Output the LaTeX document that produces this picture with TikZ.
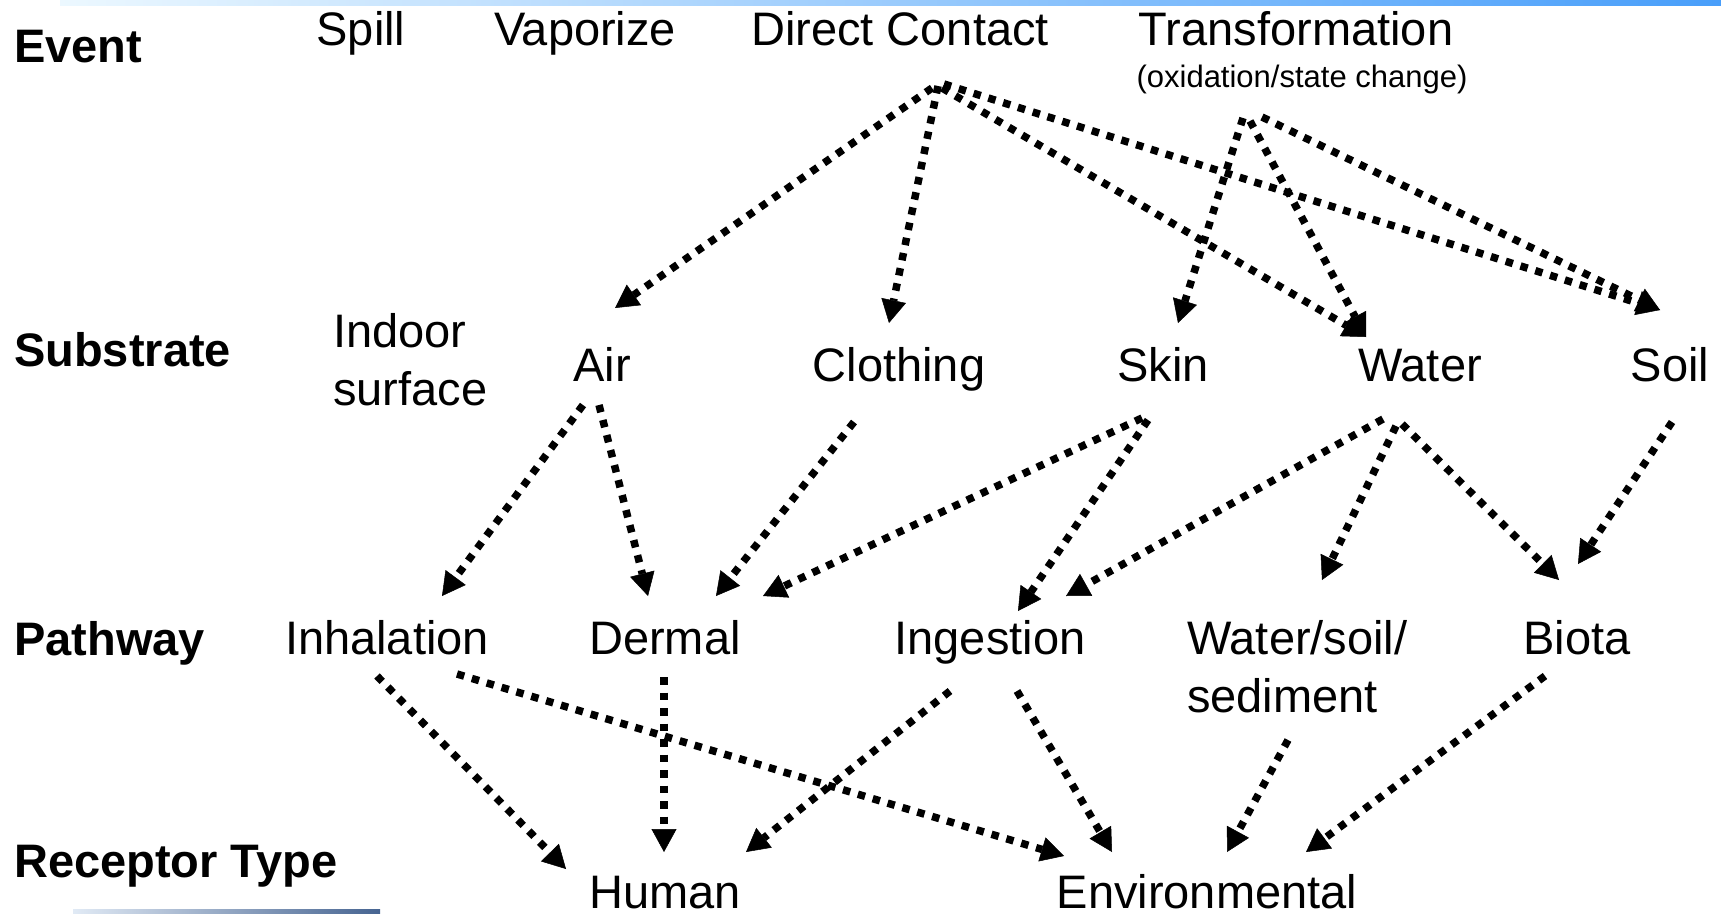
\documentclass[tikz,border=0pt]{standalone}
\usepackage{fontspec}
\setmainfont{Liberation Sans}
\usetikzlibrary{arrows.meta}
\definecolor{barA}{RGB}{236,248,255}
\definecolor{barB}{RGB}{72,158,250}
\definecolor{botA}{RGB}{225,234,245}
\definecolor{botM}{RGB}{150,170,195}
\definecolor{botB}{RGB}{70,100,145}
\begin{document}
\begin{tikzpicture}[x=1pt,y=-1pt,
  txt/.style={inner sep=0pt, anchor=base, font=\fontsize{47}{58}\selectfont},
  lbl/.style={inner sep=0pt, anchor=base west, font=\fontsize{47}{58}\selectfont\bfseries},
  sml/.style={inner sep=0pt, anchor=base, font=\fontsize{31}{37}\selectfont},
  flow/.style={line width=7.5pt, dash pattern=on 7.5pt off 8pt,
    -{Triangle[length=23pt,width=25pt,line width=0.5pt]}},
]
\useasboundingbox (0,0) rectangle (1721,913);
\fill[white] (0,0) rectangle (1721,913);
\shade[left color=barA, right color=barB] (60,0) rectangle (1721,5);
\shade[left color=botA, middle color=botM, right color=botB] (73,909) rectangle (380,913);

% row labels
\node[lbl] (levent) at (14,62) {Event};
\node[lbl] (lsub) at (14,366) {Substrate};
\node[lbl] (lpath) at (14,655) {Pathway};
\node[lbl] (lrec) at (14,877) {Receptor Type};

% events
\node[txt] (spill) at (361,45) {Spill};
\node[txt] (vap) at (585,45) {Vaporize};
\node[txt] (dc) at (900,45) {Direct Contact};
\node[txt] (tr) at (1296,45) {Transformation};
\node[sml] (trsub) at (1302,87) {(oxidation/state change)};

% substrates
\node[txt, anchor=base west, align=left] (indoor) at (333,405) {Indoor\\surface};
\node[txt] (air) at (602,381) {Air};
\node[txt] (cloth) at (899,381) {Clothing};
\node[txt] (skin) at (1163,381) {Skin};
\node[txt] (water) at (1420,381) {Water};
\node[txt] (soil) at (1670,381) {Soil};

% pathways
\node[txt] (inh) at (387,654) {Inhalation};
\node[txt] (derm) at (665,654) {Dermal};
\node[txt] (ing) at (990,654) {Ingestion};
\node[txt, anchor=base west, align=left] (wss) at (1187,712) {Water/soil/\\sediment};
\node[txt] (biota) at (1577,654) {Biota};

% receptors
\node[txt] (human) at (665,908) {Human};
\node[txt] (env) at (1207,908) {Environmental};

% event -> substrate
\draw[flow] ([shift={(32,43)}]dc.base) -- ([shift={(13,-73)}]air.base);
\draw[flow] ([shift={(38,41)}]dc.base) -- ([shift={(-10,-58)}]cloth.base);
\draw[flow] ([shift={(42,43)}]dc.base) -- ([shift={(-54,-44)}]water.base);
\draw[flow] ([shift={(44,39)}]dc.base) -- ([shift={(-10,-71)}]soil.base);
\draw[flow] ([shift={(-53,73)}]tr.base) -- ([shift={(15,-58)}]skin.base);
\draw[flow] ([shift={(-46,76)}]tr.base) -- ([shift={(-54,-44)}]water.base);
\draw[flow] ([shift={(-34,72)}]tr.base) -- ([shift={(-10,-71)}]soil.base);

% substrate -> pathway
\draw[flow] ([shift={(-19,24)}]air.base) -- ([shift={(55,-58)}]inh.base);
\draw[flow] ([shift={(-3,24)}]air.base) -- ([shift={(-17,-58)}]derm.base);
\draw[flow] ([shift={(-45,41)}]cloth.base) -- ([shift={(51,-58)}]derm.base);
\draw[flow] ([shift={(-21,37)}]skin.base) -- ([shift={(98,-58)}]derm.base);
\draw[flow] ([shift={(-15,39)}]skin.base) -- ([shift={(28,-43)}]ing.base);
\draw[flow] ([shift={(-37,38)}]water.base) -- ([shift={(76,-58)}]ing.base);
\draw[flow] ([shift={(-24,45)}]water.base) -- ([shift={(135,-132)}]wss.base west);
\draw[flow] ([shift={(-18,43)}]water.base) -- ([shift={(-18,-74)}]biota.base);
\draw[flow] ([shift={(2,41)}]soil.base) -- ([shift={(1,-90)}]biota.base);

% pathway -> receptor
\draw[flow] ([shift={(-10,22)}]inh.base) -- ([shift={(-99,-39)}]human.base);
\draw[flow] ([shift={(70,20)}]inh.base) -- ([shift={(-143,-52)}]env.base);
\draw[flow] ([shift={(-1,23)}]derm.base) -- ([shift={(-1,-56)}]human.base);
\draw[flow] ([shift={(-40,37)}]ing.base) -- ([shift={(81,-56)}]human.base);
\draw[flow] ([shift={(27,37)}]ing.base) -- ([shift={(-95,-56)}]env.base);
\draw[flow] ([shift={(101,28)}]wss.base west) -- ([shift={(20,-56)}]env.base);
\draw[flow] ([shift={(-32,22)}]biota.base) -- ([shift={(99,-56)}]env.base);
\end{tikzpicture}
\end{document}
